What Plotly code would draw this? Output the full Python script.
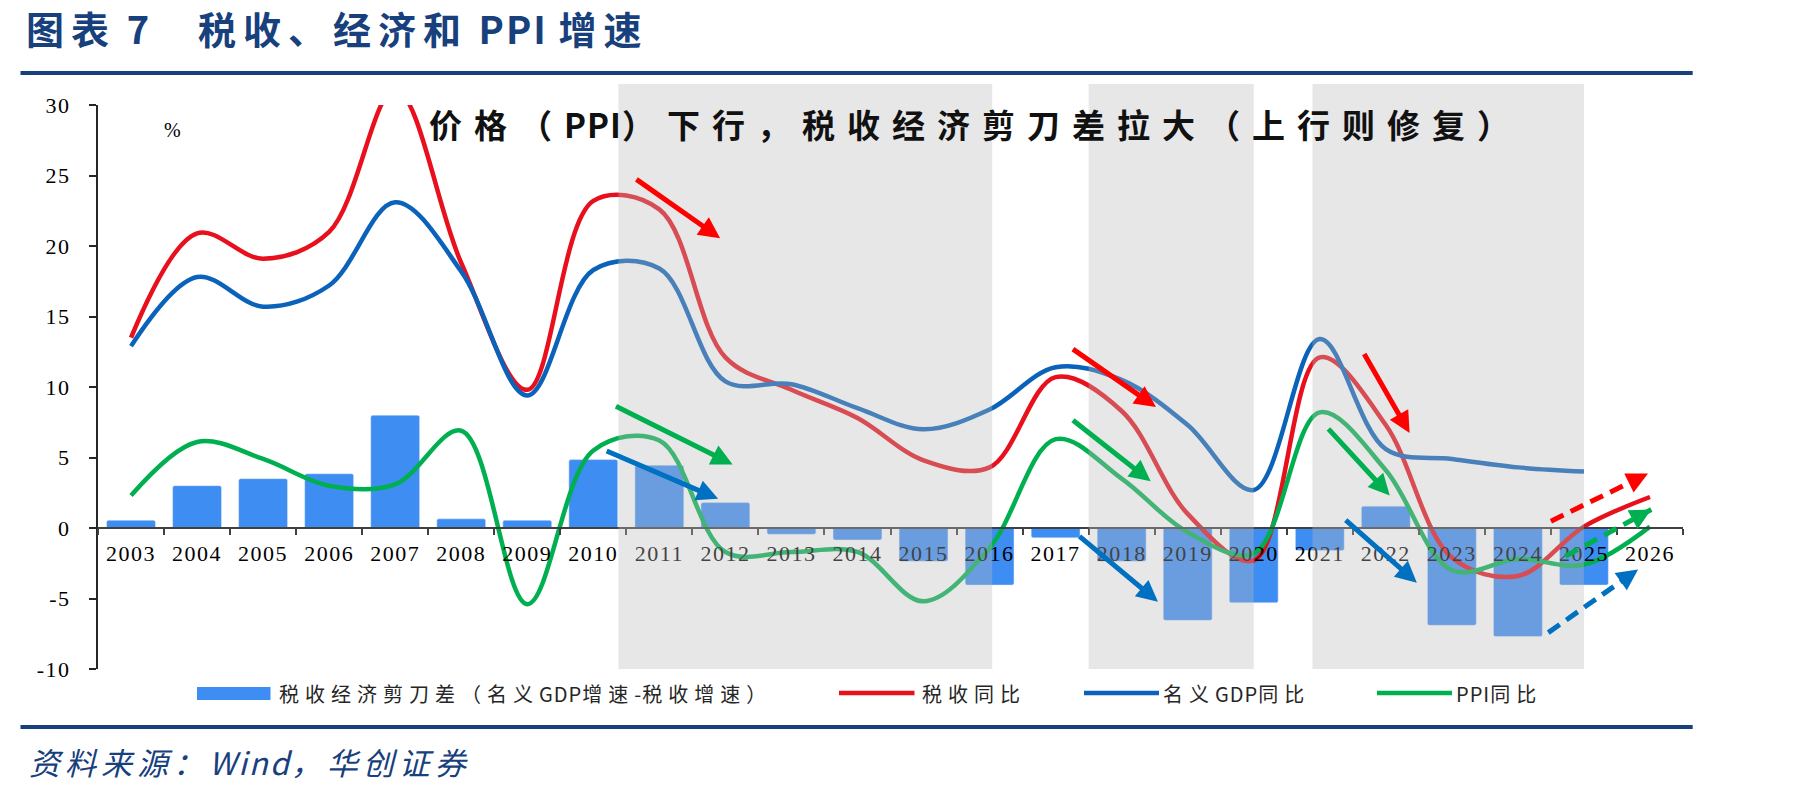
import plotly.graph_objects as go

# ---------------- data ----------------
years = [str(y) for y in range(2003, 2027)]
gap_years = years[:23]          # 2003-2025
gap_values = [0.55, 3.0, 3.5, 3.85, 8.0, 0.65, 0.55, 4.85, 4.45, 1.8, -0.45, -0.85,
              -2.35, -4.05, -0.7, -2.35, -6.55, -5.3, -1.6, 1.55, -6.9, -7.7, -4.05]
tax_years = years               # 2003-2026
tax_growth = [13.5, 20.9, 19.1, 21.0, 31.1, 18.8, 9.8, 23.2, 22.6, 12.1, 9.8, 7.8,
              4.8, 4.3, 10.7, 8.3, 1.0, -2.3, 12.1, 7.3, -2.1, -3.4, 0.1, 2.2]
gdp_years = years[:23]          # 2003-2025
gdp_growth = [12.9, 17.8, 15.7, 17.2, 23.1, 18.2, 9.4, 18.3, 18.4, 10.4, 10.2, 8.5,
              7.0, 8.4, 11.4, 10.5, 7.3, 2.7, 13.4, 5.6, 4.9, 4.3, 4.0]
ppi_years = years               # 2003-2026
ppi_growth = [2.3, 6.1, 4.9, 3.0, 3.1, 6.9, -5.4, 5.5, 6.2, -1.7, -1.7, -1.7,
              -5.2, -1.4, 6.3, 3.5, -0.3, -1.8, 8.2, 4.1, -3.0, -2.2, -2.6, 0.1]
y_ticks = [-10, -5, 0, 5, 10, 15, 20, 25, 30]

# shaded periods (category-index positions, 2003 = 0)
shade_periods = [(7.38, 13.04), (14.5, 17.0), (17.89, 22.0)]

# arrows: (colour, x_start, y_start, x_end, y_end) in category index / value units
solid_arrows = [
    ("#FF0000", 7.63, 24.8, 8.92, 20.55),
    ("#00B050", 7.32, 8.68, 9.11, 4.5),
    ("#0070C0", 7.18, 5.51, 8.89, 2.07),
    ("#FF0000", 14.24, 12.76, 15.52, 8.58),
    ("#00B050", 14.24, 7.73, 15.44, 3.31),
    ("#0070C0", 14.34, -0.51, 15.55, -5.23),
    ("#FF0000", 18.66, 12.45, 19.36, 6.74),
    ("#00B050", 18.11, 7.14, 19.06, 2.3),
    ("#0070C0", 18.37, 0.65, 19.47, -3.88),
]
dashed_arrows = [
    ("#FF0000", 21.5, 0.48, 22.97, 3.86),
    ("#00B050", 21.72, -2.0, 23.02, 1.31),
    ("#0070C0", 21.46, -7.42, 22.82, -2.94),
]

# ---------------- style ----------------
W_FIG, H_FIG = 1801, 796
ML, MR, MT, MB = 98, 118, 105, 127
PW, PH = W_FIG - ML - MR, H_FIG - MT - MB
BAR_C = "#3E8DF3"
RED_C = "#E8101C"
BLUE_C = "#0A62BA"
GREEN_C = "#00B050"
NAVY = "#17407D"
CJK = "Noto Sans CJK SC"
SERIF = "Liberation Serif"


def xp(px):
    return (px - ML) / PW


def yp(py):
    return (MT + PH - py) / PH


def sp(text, ls, ls_ascii=1):
    """Wrap runs of text in letter-spacing spans (wider for CJK, tight for Latin)."""
    runs, cur, cur_ascii = [], "", None
    for ch in text:
        a = ord(ch) < 128
        if cur and a != cur_ascii:
            runs.append((cur, cur_ascii))
            cur = ""
        cur += ch
        cur_ascii = a
    if cur:
        runs.append((cur, cur_ascii))
    return "".join(f'<span style="letter-spacing:{ls_ascii if a else ls}px">{t}</span>'
                   for t, a in runs)


n_cat = len(years)


def xdom(idx):
    return (idx + 0.5) / n_cat


fig = go.Figure()
fig.add_trace(go.Bar(x=gap_years, y=gap_values, marker=dict(color=BAR_C, cornerradius=2),
                     width=0.74, name="税收经济剪刀差（名义GDP增速-税收增速）"))
fig.add_trace(go.Scatter(x=tax_years, y=tax_growth, mode="lines", name="税收同比",
                         line=dict(color=RED_C, width=4.5, shape="spline", smoothing=1)))
fig.add_trace(go.Scatter(x=gdp_years, y=gdp_growth, mode="lines", name="名义GDP同比",
                         line=dict(color=BLUE_C, width=4.5, shape="spline", smoothing=1)))
fig.add_trace(go.Scatter(x=ppi_years, y=ppi_growth, mode="lines", name="PPI同比",
                         line=dict(color=GREEN_C, width=4.5, shape="spline", smoothing=1)))

shapes = []
# grey translucent period overlays
for a, b in shade_periods:
    shapes.append(dict(type="rect", xref="x domain", yref="paper", x0=xdom(a), x1=xdom(b),
                       y0=0, y1=yp(84), fillcolor="rgba(188,188,188,0.354)",
                       line=dict(width=0), layer="above"))
# dashed arrow shafts
for c, x0, y0, x1, y1 in dashed_arrows:
    shapes.append(dict(type="line", xref="x", yref="y", x0=x0, y0=y0, x1=x1, y1=y1,
                       line=dict(color=c, width=5, dash="14px,8px"), layer="above"))
# horizontal rules
for py in (73, 727):
    shapes.append(dict(type="line", xref="paper", yref="paper", x0=xp(20.5), x1=xp(1692.7),
                       y0=yp(py), y1=yp(py), line=dict(color=NAVY, width=4), layer="above"))
# manual legend symbols
shapes.append(dict(type="rect", xref="paper", yref="paper", x0=xp(197), x1=xp(270.5),
                   y0=yp(700), y1=yp(687), fillcolor=BAR_C, line=dict(width=0)))
for c, a, b in ((RED_C, 839, 914.5), (BLUE_C, 1084, 1159), (GREEN_C, 1377, 1452)):
    shapes.append(dict(type="line", xref="paper", yref="paper", x0=xp(a), x1=xp(b),
                       y0=yp(693), y1=yp(693), line=dict(color=c, width=4.5)))

annotations = []
for c, x0, y0, x1, y1 in solid_arrows:
    annotations.append(dict(x=x1, y=y1, ax=x0, ay=y0, xref="x", yref="y", axref="x", ayref="y",
                            text="", showarrow=True, arrowhead=2, arrowsize=0.85,
                            arrowwidth=5, arrowcolor=c))
for c, x0, y0, x1, y1 in dashed_arrows:
    tx, ty = x1 - 0.14 * (x1 - x0), y1 - 0.14 * (y1 - y0)
    annotations.append(dict(x=x1, y=y1, ax=tx, ay=ty, xref="x", yref="y", axref="x", ayref="y",
                            text="", showarrow=True, arrowhead=2, arrowsize=0.85,
                            arrowwidth=5, arrowcolor=c))

# titles and texts
annotations.append(dict(xref="paper", yref="paper", x=xp(24), y=yp(28), xanchor="left",
                        yanchor="middle", showarrow=False,
                        text=sp("图表 7\u00a0\u00a0\u00a0税收、经济和 PPI 增速", 7, 2),
                        font=dict(family=CJK, size=38, color=NAVY, weight="bold")))
annotations.append(dict(xref="paper", yref="paper", x=xp(427), y=yp(124), xanchor="left",
                        yanchor="middle", showarrow=False,
                        text=sp("价格（PPI）下行，税收经济剪刀差拉大（上行则修复）", 12, 1),
                        font=dict(family=CJK, size=33, color="#111111", weight="bold")))
annotations.append(dict(xref="paper", yref="paper", x=xp(172), y=yp(130), xanchor="center",
                        yanchor="middle", showarrow=False, text="%",
                        font=dict(family=SERIF, size=20, color="#000000")))
annotations.append(dict(xref="paper", yref="paper", x=xp(27), y=yp(762), xanchor="left",
                        yanchor="middle", showarrow=False,
                        text="<i>" + sp("资料来源：Wind，华创证券", 5, 2) + "</i>",
                        font=dict(family=CJK, size=31, color=NAVY)))
# manual legend labels
for txt, px in (("税收经济剪刀差（名义GDP增速-税收增速）", 277), ("税收同比", 920),
                ("名义GDP同比", 1161), ("PPI同比", 1454)):
    annotations.append(dict(xref="paper", yref="paper", x=xp(px), y=yp(693), xanchor="left",
                            yanchor="middle", showarrow=False, text=sp(txt, 6, 1),
                            font=dict(family=CJK, size=20, color="#262626")))

fig.update_layout(
    width=W_FIG, height=H_FIG, autosize=False,
    margin=dict(l=ML, r=MR, t=MT, b=MB, pad=0),
    paper_bgcolor="white", plot_bgcolor="white",
    showlegend=False, bargap=0.26,
    shapes=shapes, annotations=annotations,
    xaxis=dict(type="category", categoryorder="array", categoryarray=years,
               range=[-0.5, n_cat - 0.5], anchor="free", position=0.25,
               showline=True, linecolor="#404040", linewidth=2,
               ticks="outside", tickson="boundaries", ticklen=6, tickwidth=1.5,
               tickcolor="#404040", tickmode="array", tickvals=years,
               ticktext=[sp(y, 1.5, 1.5) for y in years], ticklabelstandoff=6,
               tickfont=dict(family=SERIF, size=22, color="#000000"),
               showgrid=False, zeroline=False),
    yaxis=dict(range=[-10, 30], tickmode="array", tickvals=y_ticks,
               ticktext=[sp(str(v), 1.5, 1.5) for v in y_ticks],
               showline=True, linecolor="#262626", linewidth=2,
               ticks="outside", ticklen=7, tickwidth=1.5, tickcolor="#262626",
               ticklabelstandoff=14,
               tickfont=dict(family=SERIF, size=22, color="#000000"),
               showgrid=False, zeroline=False),
)

fig.write_html("out.html")
